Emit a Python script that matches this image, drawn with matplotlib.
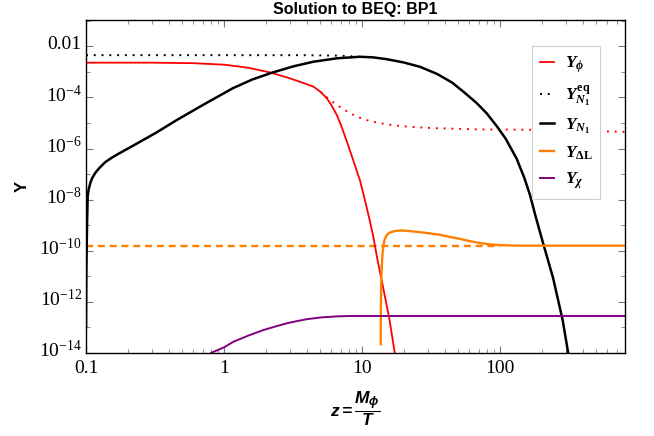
import numpy as np
import matplotlib
matplotlib.use("Agg")
import matplotlib.pyplot as plt
from matplotlib.ticker import FixedLocator, FuncFormatter, LogLocator, NullFormatter
from matplotlib.transforms import ScaledTranslation

plt.rcParams['mathtext.fontset'] = 'custom'
plt.rcParams['mathtext.it'] = 'Liberation Serif:italic:bold'
plt.rcParams['mathtext.rm'] = 'Liberation Serif:bold'
plt.rcParams['mathtext.bf'] = 'Liberation Serif:bold'
plt.rcParams['mathtext.sf'] = 'Liberation Sans:italic:bold'

# Y_phi (red, solid)
z_phi = [0.1, 0.3, 0.6, 1.0, 1.5, 2.16, 3.0, 3.7, 4.45, 5.0, 5.55, 6.0, 6.58, 7.0, 7.5, 7.97, 8.5, 9.0,
         9.67, 10.5, 11.3, 12.07, 13.0, 14.0, 15.77, 17.3, 18.0]
y_phi = [2.29e-3, 2.29e-3, 2.19e-3, 1.91e-3, 1.45e-3, 9.5e-4, 5.6e-4, 3.8e-4, 2.63e-4, 1.66e-4, 9.3e-5,
         5.0e-5, 2.0e-5, 8.9e-6, 3.2e-6, 1.26e-6, 4.5e-7, 1.78e-7, 5.6e-8, 9.5e-9, 1.78e-9, 3.6e-10,
         3.9e-11, 5.6e-12, 2.2e-13, 9.5e-15, 2.5e-15]

# Y_phi equilibrium (red, dotted)
z_phi_eq = [5.0, 5.55, 6.3, 7.3, 8.2, 9.14, 10.5, 12.07, 15.0, 18.9, 25, 32.8, 50, 71.6, 120, 195, 400, 800]
y_phi_eq = [1.66e-4, 1.02e-4, 6.0e-5, 3.5e-5, 2.4e-5, 1.78e-5, 1.35e-5, 1.12e-5, 8.9e-6, 7.6e-6, 6.8e-6,
            6.3e-6, 5.9e-6, 5.6e-6, 5.5e-6, 5.4e-6, 4.9e-6, 4.5e-6]

# Y_N1 equilibrium (black, dotted)
z_n1_eq = [0.1, 4.0, 7.0, 9.67]
y_n1_eq = [4.5e-3, 4.5e-3, 4.3e-3, 3.9e-3]

# Y_N1 (black, solid)
z_n1 = [0.1, 0.1005, 0.1012, 0.1017, 0.1028, 0.1045, 0.1074, 0.111, 0.1168, 0.125, 0.138, 0.155, 0.1725,
        0.2277, 0.318, 0.45, 0.7, 1.16, 1.6, 2.2, 3.2, 4.45, 6.58, 9.67, 12.0, 15.0, 20.0, 26.3, 35, 45,
        55, 67.8, 80, 94.6, 110, 132, 150, 165, 180, 205, 242, 284, 312, 349]
y_n1 = [1e-13, 1e-11, 1.58e-10, 8.7e-10, 1.32e-8, 2.5e-8, 4.4e-8, 7.1e-8, 1.12e-7, 1.74e-7, 2.95e-7,
        4.5e-7, 6.3e-7, 1.45e-6, 4.0e-6, 1.26e-5, 5.0e-5, 2.3e-4, 5.0e-4, 9.1e-4, 1.66e-3, 2.5e-3,
        3.4e-3, 3.9e-3, 3.7e-3, 3.16e-3, 2.34e-3, 1.58e-3, 8.3e-4, 3.8e-4, 1.58e-4, 6.0e-5, 2.4e-5,
        7.6e-6, 2.4e-6, 4.0e-7, 7.1e-8, 1.51e-8, 2.5e-9, 2.0e-10, 8.9e-12, 2.0e-13, 9.8e-15, 5e-16]

# Y_DeltaL (orange): observed value (dashed) and solution (solid)
z_dl_obs = [0.1, 100]
y_dl_obs = [1.58e-10, 1.58e-10]
z_dl = [13.66, 13.68, 13.72, 13.78, 13.86, 13.97, 14.12, 14.3, 14.55, 14.9, 15.4, 16.2, 17.3, 18.7, 20,
        22, 25, 30, 36.8, 43, 50, 60, 71.6, 85, 100, 125, 150, 800]
y_dl = [2.2e-14, 1.6e-13, 1e-12, 5e-12, 1.6e-11, 4e-11, 8.9e-11, 1.66e-10, 2.6e-10, 3.6e-10, 4.6e-10,
        5.4e-10, 5.9e-10, 6.2e-10, 6.2e-10, 5.9e-10, 5.5e-10, 4.9e-10, 4.2e-10, 3.5e-10, 3.0e-10,
        2.4e-10, 2.0e-10, 1.78e-10, 1.66e-10, 1.6e-10, 1.58e-10, 1.58e-10]

# Y_chi (purple)
z_chi = [0.75, 0.81, 1.0, 1.17, 1.5, 1.93, 2.4, 2.85, 3.4, 3.98, 5.0, 6.5, 8.0, 10.0, 800]
y_chi = [6.3e-15, 1.02e-14, 1.66e-14, 2.75e-14, 4.8e-14, 7.9e-14, 1.12e-13, 1.45e-13, 1.78e-13, 2.1e-13,
         2.45e-13, 2.7e-13, 2.8e-13, 2.8e-13, 2.8e-13]

fig = plt.figure(figsize=(6.54, 4.36), dpi=100)
ax = fig.add_axes([0.1315, 0.1904, 0.8242, 0.7637])

ax.plot(z_phi_eq, y_phi_eq, color='red', lw=1.4, ls=(0, (1, 3)))
ax.plot(z_dl_obs, y_dl_obs, color='#ff8000', lw=1.7, ls=(0, (3, 2)))
ax.plot(z_phi, y_phi, color='red', lw=1.3, label=r'$Y_{\phi}$')
ax.plot(z_n1_eq, y_n1_eq, color='black', lw=1.4, ls=(0, (1, 3)), label=r'$Y_{N_1}^{\mathrm{eq}}$')
ax.plot(z_n1, y_n1, color='black', lw=1.8, label=r'$Y_{N_1}$')
ax.plot(z_dl, y_dl, color='#ff8000', lw=1.7, label=r'$Y_{\Delta\mathrm{L}}$')
ax.plot(z_chi, y_chi, color='#800080', lw=1.4, label=r'$Y_{\chi}$')

ax.set_xscale('log')
ax.set_yscale('log')
ax.set_xlim(0.1, 805)
ax.set_ylim(1e-14, 0.107)

ax.yaxis.set_major_locator(FixedLocator([1e-14, 1e-12, 1e-10, 1e-8, 1e-6, 1e-4, 1e-2]))
ax.yaxis.set_minor_locator(FixedLocator([1e-13, 1e-11, 1e-9, 1e-7, 1e-5, 1e-3, 1e-1]))
ax.yaxis.set_minor_formatter(NullFormatter())


def yfmt(v, pos):
    if abs(v - 1e-2) < 1e-6:
        return '0.01'
    e = int(round(np.log10(v)))
    return r'$\mathregular{10^{%d}}$' % e


def xfmt(v, pos):
    return '%g' % v


ax.yaxis.set_major_formatter(FuncFormatter(yfmt))
ax.xaxis.set_major_locator(FixedLocator([0.1, 1, 10, 100]))
ax.xaxis.set_minor_locator(LogLocator(base=10, subs=np.arange(2, 10)))
ax.xaxis.set_minor_formatter(NullFormatter())
ax.xaxis.set_major_formatter(FuncFormatter(xfmt))

ax.tick_params(which='both', direction='in', top=True, right=True, color='#777777')
ax.tick_params(which='major', length=5, width=0.8, labelsize=14)
ax.tick_params(axis='x', which='major', pad=5)
ax.tick_params(axis='y', which='major', pad=3)
ax.tick_params(which='minor', length=3, width=0.6)
for lab in ax.get_xticklabels() + ax.get_yticklabels():
    lab.set_family('Liberation Serif')
# lift the y labels so that the "10" sits on the tick, exponent above
for t in ax.yaxis.get_major_ticks():
    t.label1.set_transform(t.label1.get_transform() + ScaledTranslation(0, 3 / 72, fig.dpi_scale_trans))
for s in ax.spines.values():
    s.set_linewidth(1.0)

ax.set_title('Solution to BEQ: BP1', fontsize=11.5, fontweight='bold', family='Liberation Sans', pad=4)
ax.set_ylabel('Y', fontsize=12, fontweight='bold', family='Liberation Sans')
ax.yaxis.set_label_coords(-0.105, 0.5)
ax.set_xlabel(r'$\mathsf{z=}\dfrac{\mathsf{M_{\phi}}}{\mathsf{T}}$', fontsize=12.5)
ax.xaxis.set_label_coords(0.5, -0.11)

leg = ax.legend(loc='upper right', bbox_to_anchor=(0.954, 0.922), borderaxespad=0, fontsize=12.5,
                handlelength=0.8, handletextpad=0.6, labelspacing=0.45, borderpad=0.45,
                fancybox=False, framealpha=1)
leg.get_frame().set_edgecolor('#d0d0d0')
leg.get_frame().set_linewidth(0.8)

fig.savefig('out.png', dpi=100)
